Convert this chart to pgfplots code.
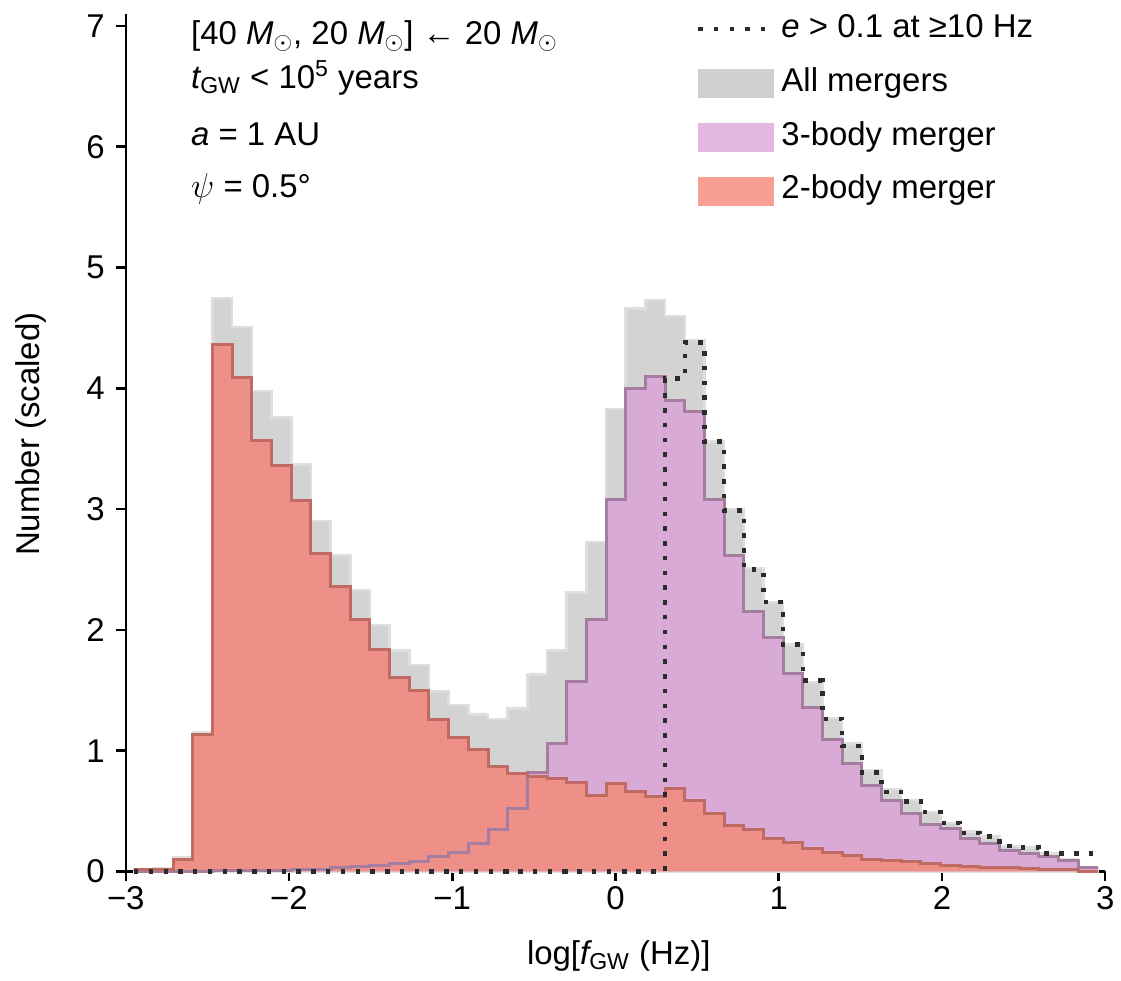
\documentclass[border=0pt]{standalone}
\usepackage{fontspec}
\setmainfont{Liberation Sans}
\usepackage{pgfplots}
\usepackage{pgfplotstable}
\pgfplotsset{compat=1.18}

\definecolor{allfill}{HTML}{D3D3D3}
\definecolor{alledge}{HTML}{DEDEDE}
\definecolor{threefill}{HTML}{D9AAD6}
\definecolor{threeedge}{HTML}{A57DA0}
\definecolor{twofill}{HTML}{EE8F88}
\definecolor{twoedge}{HTML}{C06A64}
\definecolor{ecccol}{HTML}{2B2B2B}
\definecolor{legall}{HTML}{D0D0D0}
\definecolor{legthree}{HTML}{E3B8E0}
\definecolor{legtwo}{HTML}{F7A092}

% bin left edges (last row = right edge of last bin)
\pgfplotstableread{
x all three two ecc
-2.9500 0.02 0.000 0.02 0
-2.8295 0.03 0.000 0.02 0
-2.7090 0.12 0.000 0.10 0
-2.5885 1.15 0.003 1.13 0
-2.4680 4.75 0.005 4.36 0
-2.3475 4.51 0.008 4.09 0
-2.2270 3.98 0.010 3.57 0
-2.1065 3.76 0.012 3.36 0
-1.9860 3.37 0.015 3.07 0
-1.8655 2.90 0.020 2.63 0
-1.7450 2.62 0.030 2.36 0
-1.6245 2.33 0.040 2.09 0
-1.5040 2.04 0.050 1.84 0
-1.3835 1.83 0.065 1.61 0
-1.2630 1.71 0.080 1.50 0
-1.1425 1.49 0.120 1.26 0
-1.0220 1.38 0.160 1.11 0
-0.9015 1.30 0.230 1.01 0
-0.7810 1.26 0.350 0.87 0
-0.6605 1.35 0.520 0.81 0
-0.5400 1.63 0.820 0.79 0
-0.4195 1.83 1.060 0.77 0
-0.2990 2.31 1.570 0.74 0
-0.1785 2.73 2.090 0.63 0
-0.0580 3.83 3.080 0.73 0
0.0625 4.66 4.000 0.66 0
0.1830 4.73 4.100 0.62 0
0.3035 4.60 3.900 0.69 4.08
0.4240 4.40 3.810 0.59 4.38
0.5445 3.56 3.080 0.48 3.56
0.6650 3.00 2.620 0.38 2.99
0.7855 2.51 2.150 0.35 2.50
0.9060 2.23 1.940 0.27 2.23
1.0265 1.88 1.640 0.24 1.88
1.1470 1.57 1.360 0.19 1.58
1.2675 1.27 1.090 0.157 1.26
1.3880 1.06 0.890 0.13 1.04
1.5085 0.84 0.710 0.10 0.82
1.6290 0.68 0.590 0.094 0.66
1.7495 0.59 0.480 0.08 0.58
1.8700 0.49 0.390 0.066 0.49
1.9905 0.40 0.355 0.052 0.40
2.1110 0.33 0.270 0.044 0.32
2.2315 0.29 0.230 0.036 0.29
2.3520 0.21 0.170 0.03 0.21
2.4725 0.20 0.150 0.025 0.20
2.5930 0.15 0.120 0.02 0.15
2.7135 0.10 0.094 0.02 0.15
2.8340 0.03 0.030 0.00 0.15
2.9545 0.03 0.030 0.00 0.15
}\histdata

\newcommand{\fs}{\fontsize{16.5}{19.8}\selectfont}
\newcommand{\Msun}{{\itshape M}\textsubscript{$\odot$}}

\begin{document}
\begin{tikzpicture}
\begin{axis}[
  scale only axis,
  width=490.5pt, height=429.5pt,
  xmin=-3, xmax=3, ymin=0, ymax=7.1,
  axis lines*=left,
  axis line style={line width=1.25pt, black},
  tick style={line width=1.25pt, black},
  tick align=outside,
  major tick length=5pt,
  xtick={-3,-2,-1,0,1,2,3},
  xticklabels={−3,−2,−1,0,1,2,3},
  ytick={0,1,2,3,4,5,6,7},
  yticklabels={0,1,2,3,4,5,6,7},
  ticklabel style={font=\fs},
  yticklabel style={xshift=-2pt},
  xticklabel style={yshift=1pt},
  clip=false,
  xlabel={log[{\itshape f}\textsubscript{GW} (Hz)]},
  ylabel={Number (scaled)},
  every axis x label/.style={at={(axis cs:0.02,-0.769)}, anchor=base, font=\fs},
  every axis y label/.style={at={(axis cs:-3.526,3.62)}, anchor=base, rotate=90, font=\fs},
  legend style={at={(axis cs:0.492,7.10)}, anchor=north west, draw=none, fill=none,
    inner sep=0pt, row sep=12pt, column sep=3pt, font=\fs,
    nodes={inner sep=0pt, text height=11.5pt, text depth=3.5pt}},
  legend cell align=left,
]
% fills
\addplot[const plot, fill=allfill, draw=alledge, line width=1.2pt, forget plot]
  table[x=x, y=all]{\histdata} \closedcycle;
\addplot[const plot, fill=threefill, draw=none, forget plot]
  table[x=x, y=three]{\histdata} \closedcycle;
\addplot[const plot, fill=twofill, draw=none, forget plot]
  table[x=x, y=two]{\histdata} \closedcycle;
% outlines
\addplot[const plot, draw=threeedge, line width=1.5pt, forget plot]
  table[x=x, y=three]{\histdata};
\addplot[const plot, draw=twoedge, line width=1.5pt, forget plot]
  table[x=x, y=two]{\histdata};
% eccentric
\addplot[const plot, draw=ecccol, line width=2.2pt, dash pattern=on 2.2pt off 5.2pt, forget plot]
  table[x=x, y=ecc]{\histdata};

% legend
\addlegendimage{legend image code/.code={\draw[ecccol, line width=2.2pt, dash pattern=on 2.2pt off 5.6pt] (0pt,0pt) -- (37.5pt,0pt);}}
\addlegendentry{{\itshape e} > 0.1 at ≥10 Hz}
\addlegendimage{legend image code/.code={\fill[legall] (0pt,-7pt) rectangle (37.5pt,7pt);}}
\addlegendentry{All mergers}
\addlegendimage{legend image code/.code={\fill[legthree] (0pt,-7pt) rectangle (37.5pt,7pt);}}
\addlegendentry{3-body merger}
\addlegendimage{legend image code/.code={\fill[legtwo] (0pt,-7pt) rectangle (37.5pt,7pt);}}
\addlegendentry{2-body merger}

% annotations
\node[anchor=base west, font=\fs, inner sep=0pt] at (axis cs:-2.602,6.85)
  {[40 \Msun, 20 \Msun] ← 20 \Msun};
\node[anchor=base west, font=\fs, inner sep=0pt] at (axis cs:-2.602,6.48)
  {{\itshape t}\textsubscript{GW} < 10\textsuperscript{5} years};
\node[anchor=base west, font=\fs, inner sep=0pt] at (axis cs:-2.602,6.01)
  {{\itshape a} = 1 AU};
\node[anchor=base west, font=\fs, inner sep=0pt] at (axis cs:-2.602,5.58)
  {$\psi$ = 0.5°};

% bounding box
\path (axis cs:-3.7706,-0.9008) rectangle (axis cs:3.0856,7.2149);
\end{axis}
\end{tikzpicture}
\end{document}
